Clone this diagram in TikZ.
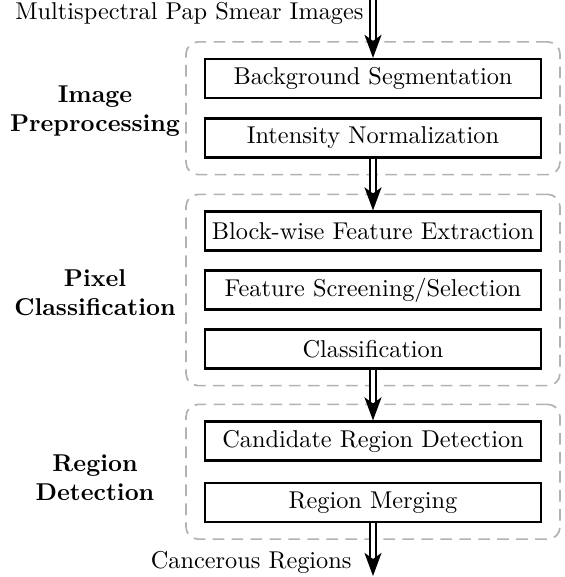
\documentclass[tikz,border=0pt]{standalone}
\usetikzlibrary{arrows.meta,fit}
\begin{document}
\begin{tikzpicture}[x=0.411pt,y=-0.411pt,
  stepbox/.style={draw,line width=0.9pt,minimum width=138pt,minimum height=16pt,inner sep=0pt,font=\normalsize},
  grp/.style={draw=black!30,dash pattern=on 4.8pt off 3pt,line width=0.7pt,rounded corners=5pt,inner xsep=7.4pt,inner ysep=6.6pt},
  lbl/.style={font=\bfseries,align=center},
  dbl/.style={double,double distance=1.4pt,line width=0.8pt,-{Stealth[length=9.5pt,width=7pt,inset=2.5pt]}}]
\useasboundingbox (0,0) rectangle (565,577);
\node[stepbox] (b1) at (373,78.5) {Background Segmentation};
\node[stepbox] (b2) at (373,138) {Intensity Normalization};
\node[stepbox] (b3) at (373,231) {Block-wise Feature Extraction};
\node[stepbox] (b4) at (373,290) {Feature Screening/Selection};
\node[stepbox] (b5) at (373,349) {Classification};
\node[stepbox] (b6) at (373,441) {Candidate Region Detection};
\node[stepbox] (b7) at (373,502.5) {Region Merging};
\node[grp,fit=(b1)(b2)] (g1) {};
\node[grp,fit=(b3)(b4)(b5)] (g2) {};
\node[grp,fit=(b6)(b7)] (g3) {};
\node[lbl] (l1) at (95,111) {Image\\Preprocessing};
\node[lbl] (l2) at (95,293) {Pixel\\Classification};
\node[lbl] (l3) at (95,478) {Region\\Detection};
\coordinate (top) at (373,0);
\coordinate (bot) at (373,576);
\node[anchor=east,inner sep=0pt] (tin) at (364,13) {Multispectral Pap Smear Images};
\node[anchor=east,inner sep=0pt] (tout) at (352,562) {Cancerous Regions};
\draw[dbl] (top) -- (b1.north);
\draw[dbl] (b2.south) -- (b3.north);
\draw[dbl] (b5.south) -- (b6.north);
\draw[dbl] (b7.south) -- (bot);
\end{tikzpicture}
\end{document}
